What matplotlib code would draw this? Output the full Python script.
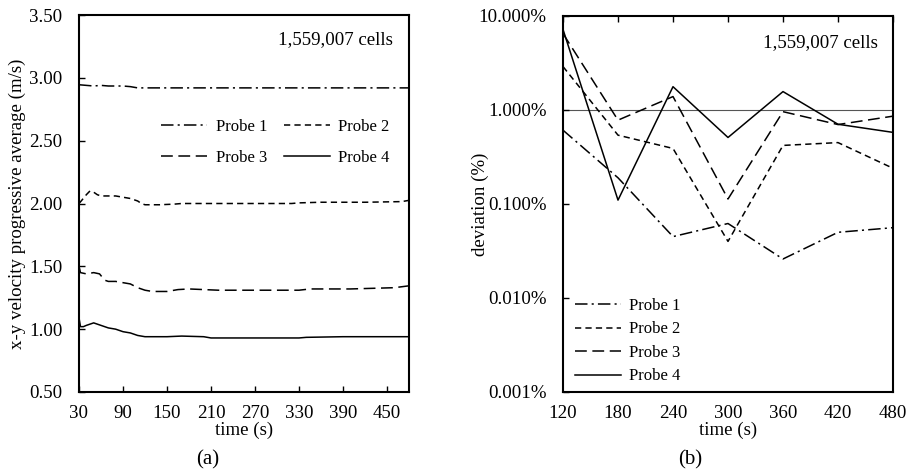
import matplotlib
matplotlib.use("Agg")
import matplotlib.pyplot as plt
from matplotlib.ticker import FuncFormatter, FixedLocator, NullLocator

plt.rcParams['font.family'] = ['Liberation Serif', 'DejaVu Serif']
plt.rcParams['font.size'] = 13.6
plt.rcParams['lines.scale_dashes'] = False

# (a) progressive average of x-y velocity
t1 = [30, 40, 50, 60, 70, 80, 90, 100, 110, 120, 200, 300, 400, 480]
p1 = [2.945, 2.94, 2.935, 2.94, 2.935, 2.935, 2.935, 2.93, 2.92, 2.92, 2.92, 2.92, 2.92, 2.92]
t2 = [30, 33, 40, 45, 50, 55, 60, 80, 90, 100, 110, 115, 120, 140, 160, 170, 200, 320, 330, 360, 420, 470, 480]
p2 = [2.00, 2.02, 2.07, 2.10, 2.09, 2.07, 2.06, 2.06, 2.05, 2.04, 2.02, 2.00, 1.99, 1.99, 1.995, 2.00, 2.00, 2.00,
      2.005, 2.01, 2.01, 2.015, 2.025]
t3 = [30, 32, 40, 50, 58, 65, 70, 80, 90, 100, 110, 120, 130, 150, 165, 180, 200, 220, 260, 300, 330, 345, 360,
      400, 430, 460, 480]
p3 = [1.50, 1.45, 1.44, 1.45, 1.44, 1.39, 1.38, 1.38, 1.37, 1.36, 1.33, 1.31, 1.30, 1.30, 1.315, 1.32, 1.315, 1.31,
      1.31, 1.31, 1.31, 1.32, 1.32, 1.32, 1.325, 1.33, 1.345]
t4 = [30, 32, 36, 40, 45, 50, 55, 60, 70, 80, 90, 100, 110, 120, 150, 170, 200, 210, 330, 340, 390, 480]
p4 = [1.09, 1.02, 1.02, 1.03, 1.04, 1.05, 1.04, 1.03, 1.01, 1.00, 0.98, 0.97, 0.95, 0.94, 0.94, 0.945, 0.94, 0.93,
      0.93, 0.935, 0.94, 0.94]

# (b) deviation (%) between sampling windows
tb = [120, 180, 240, 300, 360, 420, 480]
dev1 = [0.61, 0.19, 0.045, 0.062, 0.026, 0.050, 0.056]
dev2 = [2.9, 0.54, 0.39, 0.040, 0.42, 0.45, 0.24]
dev3 = [6.5, 0.78, 1.39, 0.113, 0.96, 0.70, 0.86]
dev4 = [7.2, 0.110, 1.77, 0.51, 1.57, 0.705, 0.578]

labels = ['Probe 1', 'Probe 2', 'Probe 3', 'Probe 4']
dash_styles = [(0, (9, 3, 1.5, 3)), (0, (4.5, 3)), (0, (8.5, 4)), '-']

fig = plt.figure(figsize=(9.15, 4.75), dpi=100)
W, H = 915, 475
ax1 = fig.add_axes([79 / W, 1 - 392 / H, 330 / W, 377 / H])
ax2 = fig.add_axes([563 / W, 1 - 392 / H, 330 / W, 376 / H])

lines_a = []
for t, p, ls, lab in zip([t1, t2, t3, t4], [p1, p2, p3, p4], dash_styles, labels):
    ln, = ax1.plot(t, p, color='black', lw=1.1, linestyle=ls, label=lab)
    lines_a.append(ln)
ax1.set_xlim(30, 480)
ax1.set_ylim(0.5, 3.5)
ax1.set_xticks(range(30, 481, 60))
ax1.set_yticks([0.5, 1.0, 1.5, 2.0, 2.5, 3.0, 3.5])
ax1.yaxis.set_major_formatter(FuncFormatter(lambda v, pos: f'{v:.2f}'))
ax1.tick_params(axis='x', direction='in', length=4, width=1, pad=9)
ax1.tick_params(axis='y', direction='in', length=4, width=1, pad=12)
ax1.set_xlabel('time (s)', labelpad=0)
ax1.set_ylabel('x-y velocity progressive average (m/s)')
ax1.yaxis.set_label_coords(-0.162, 0.5)
ax1.text(0.952, 0.936, '1,559,007 cells', transform=ax1.transAxes, ha='right', va='center')
# row-wise legend order: Probe 1, Probe 2 / Probe 3, Probe 4
order = [0, 2, 1, 3]
ax1.legend([lines_a[i] for i in order], [labels[i] for i in order], ncol=2, loc='center',
           bbox_to_anchor=(0.595, 0.663), frameon=False, fontsize=12, handlelength=2.75,
           handletextpad=0.5, columnspacing=1.0, labelspacing=0.9)
ax1.text((208 - 79) / 330, -(460 - 392) / 377, '(a)', transform=ax1.transAxes, ha='center', va='center',
         fontsize=15)

for d, ls, lab in zip([dev1, dev2, dev3, dev4], dash_styles, labels):
    ax2.plot(tb, d, color='black', lw=1.1, linestyle=ls, label=lab)
ax2.set_yscale('log')
ax2.set_xlim(120, 480)
ax2.set_ylim(0.001, 10)
ax2.axhline(1.0, color='#555555', lw=0.8, zorder=1)
ax2.yaxis.set_major_locator(FixedLocator([0.001, 0.01, 0.1, 1, 10]))
ax2.yaxis.set_minor_locator(NullLocator())
ax2.yaxis.set_major_formatter(FuncFormatter(lambda v, pos: f'{v:.3f}%'))
ax2.set_xticks(tb)
ax2.tick_params(axis='x', direction='in', length=4, width=1, pad=9, bottom=False, top=True,
                labelbottom=True, labeltop=False)
ax2.tick_params(axis='y', direction='in', length=4, width=1, pad=12)
ax2.set_xlabel('time (s)', labelpad=0)
ax2.set_ylabel('deviation (%)')
ax2.yaxis.set_label_coords(-0.224, 0.5)
ax2.text(0.955, 0.928, '1,559,007 cells', transform=ax2.transAxes, ha='right', va='center')
ax2.legend(loc='center', bbox_to_anchor=(0.197, 0.135), frameon=False, fontsize=12, handlelength=2.75,
           handletextpad=0.5, labelspacing=0.45)
ax2.text((690 - 563) / 330, -(460 - 392) / 376, '(b)', transform=ax2.transAxes, ha='center', va='center',
         fontsize=15)

for ax in (ax1, ax2):
    for s in ax.spines.values():
        s.set_linewidth(1.5)

fig.savefig('out.png', dpi=100)
